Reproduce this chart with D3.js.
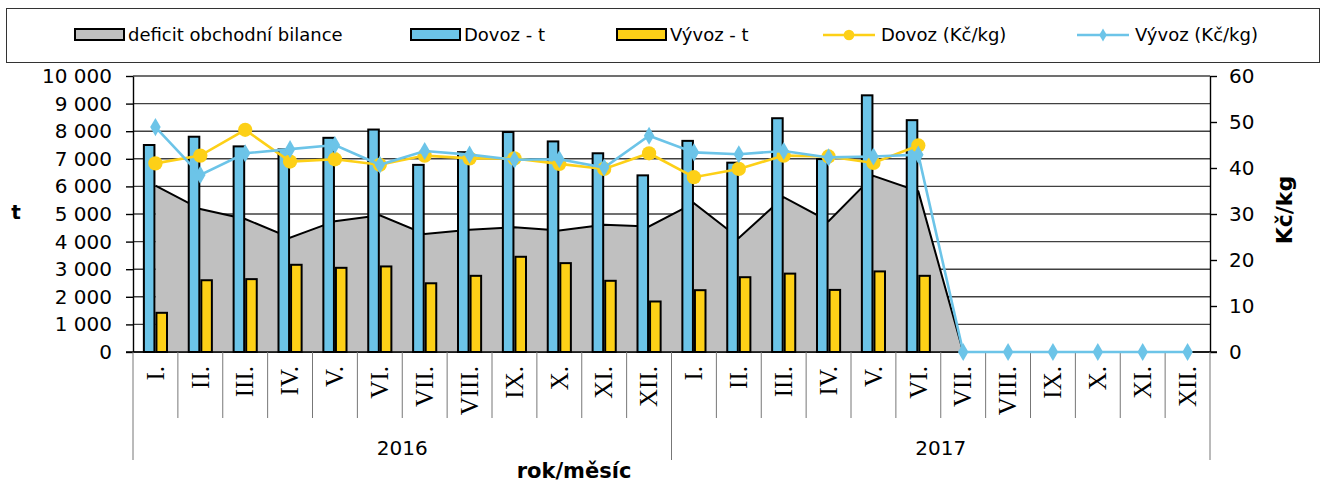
<!DOCTYPE html>
<html>
<head>
<meta charset="utf-8">
<script src="https://cdn.jsdelivr.net/npm/d3@7"></script>
<style>
body { margin: 0; background: #fff; }
svg { display: block; font-family: "DejaVu Sans", Verdana, sans-serif; }
</style>
</head>
<body>
<script>
// chart data
var years = ["2016", "2017"];
var months = ["I.", "II.", "III.", "IV.", "V.", "VI.", "VII.", "VIII.", "IX.", "X.", "XI.", "XII."];

// tonnes, left axis
var dovozT = [7500, 7800, 7450, 7340, 7760, 8060, 6780, 7240, 7970, 7630, 7200, 6400,
              7650, 6860, 8470, 6990, 9300, 8400, null, null, null, null, null, null];
var vyvozT = [1420, 2600, 2640, 3160, 3050, 3100, 2490, 2760, 3450, 3220, 2580, 1830,
              2240, 2710, 2840, 2250, 2920, 2760, null, null, null, null, null, null];
var deficit = [6030, 5180, 4820, 4140, 4740, 4950, 4280, 4430, 4520, 4400, 4610, 4550,
               5390, 4130, 5610, 4740, 6380, 5820, 0, null, null, null, null, null];

// Kč/kg, right axis
var dovozKc = [41.0, 42.7, 48.3, 41.4, 41.9, 40.7, 42.7, 42.1, 42.1, 40.9, 39.8, 43.2,
               38.0, 39.8, 42.7, 42.5, 41.1, 44.9, null, null, null, null, null, null];
var vyvozKc = [48.9, 38.5, 43.2, 44.1, 45.0, 40.7, 43.7, 42.9, 41.8, 41.9, 40.1, 47.0,
               43.4, 43.0, 43.7, 42.3, 42.5, 42.9, 0, 0, 0, 0, 0, 0];

var legendItems = ["deficit obchodní bilance", "Dovoz - t", "Vývoz - t", "Dovoz (Kč/kg)", "Vývoz (Kč/kg)"];

var colBlue = "#6cc4e8", colYellow = "#fdd017", colGray = "#c0c0c0";

drawChart();

function drawChart(){
    var width = 1327, height = 484;
    var plotL = 133, plotR = 1210, plotT = 76, plotB = 352;

    var svg = d3.select("body").append("svg")
        .attr("width", width)
        .attr("height", height);

    //categories: year x month
    var cats = d3.cross(years, months);

    var x = d3.scaleBand()
        .domain(d3.range(cats.length))
        .range([plotL, plotR]);
    var bw = x.bandwidth();
    var xs = d3.scaleBand()
        .domain(["dovoz", "vyvoz"])
        .range([bw * 0.22, bw * 0.78]);
    var cx = function(i){ return x(i) + bw / 2; };

    var yL = d3.scaleLinear().domain([0, 10000]).range([plotB, plotT]);
    var yR = d3.scaleLinear().domain([0, 60]).range([plotB, plotT]);

    var loc = d3.formatLocale({decimal: ",", thousands: " ", grouping: [3], currency: ["", ""]});
    var fmt = loc.format(",d");

    //gridlines
    svg.append("g").selectAll("line")
        .data(yL.ticks(10))
        .enter().append("line")
        .attr("x1", plotL).attr("x2", plotR)
        .attr("y1", function(d){ return yL(d); })
        .attr("y2", function(d){ return yL(d); })
        .attr("stroke", "#404040")
        .attr("stroke-width", 1.4);

    //deficit area
    var area = d3.area()
        .defined(function(d){ return d != null; })
        .x(function(d, i){ return cx(i); })
        .y0(yL(0))
        .y1(function(d){ return yL(d); });
    svg.append("path")
        .datum(deficit)
        .attr("d", area)
        .attr("fill", colGray);
    svg.append("path")
        .datum(deficit)
        .attr("d", d3.line()
            .defined(function(d){ return d != null; })
            .x(function(d, i){ return cx(i); })
            .y(function(d){ return yL(d); }))
        .attr("fill", "none")
        .attr("stroke", "#000")
        .attr("stroke-width", 2);

    //bars
    function bars(data, key, color){
        svg.append("g").selectAll("rect")
            .data(data.map(function(v, i){ return {i: i, v: v}; }).filter(function(d){ return d.v != null; }))
            .enter().append("rect")
            .attr("x", function(d){ return x(d.i) + xs(key) + 1; })
            .attr("width", xs.bandwidth() - 2)
            .attr("y", function(d){ return yL(d.v); })
            .attr("height", function(d){ return yL(0) - yL(d.v); })
            .attr("fill", color)
            .attr("stroke", "#000")
            .attr("stroke-width", 2);
    }
    bars(dovozT, "dovoz", colBlue);
    bars(vyvozT, "vyvoz", colYellow);

    //axes
    var axL = svg.append("g")
        .attr("transform", "translate(" + plotL + ",0)")
        .call(d3.axisLeft(yL).ticks(10).tickFormat(fmt).tickSize(7).tickSizeOuter(0).tickPadding(14));
    var axR = svg.append("g")
        .attr("transform", "translate(" + plotR + ",0)")
        .call(d3.axisRight(yR).ticks(6).tickSize(7).tickSizeOuter(0).tickPadding(12));
    [axL, axR].forEach(function(ax){
        ax.selectAll("text").attr("font-size", 20).attr("font-family", "DejaVu Sans").attr("fill", "#000");
        ax.selectAll("line, path").attr("stroke", "#000").attr("stroke-width", 1.4);
    });
    svg.append("line")
        .attr("x1", plotL - 7).attr("x2", plotR + 7)
        .attr("y1", plotB).attr("y2", plotB)
        .attr("stroke", "#000").attr("stroke-width", 1.6);

    //category axis
    var xa = svg.append("g");
    xa.selectAll(".sep")
        .data(d3.range(1, cats.length).filter(function(i){ return i % 12 != 0; }))
        .enter().append("line")
        .attr("x1", function(i){ return x(i); })
        .attr("x2", function(i){ return x(i); })
        .attr("y1", plotB).attr("y2", 418)
        .attr("stroke", "#777").attr("stroke-width", 1);
    xa.selectAll(".grp")
        .data(d3.range(0, cats.length + 1, 12))
        .enter().append("line")
        .attr("x1", function(i){ return i < cats.length ? x(i) : plotR; })
        .attr("x2", function(i){ return i < cats.length ? x(i) : plotR; })
        .attr("y1", plotB).attr("y2", 460)
        .attr("stroke", "#777").attr("stroke-width", 1);
    xa.selectAll(".mon")
        .data(cats)
        .enter().append("text")
        .attr("transform", function(d, i){ return "translate(" + cx(i) + ",366) rotate(-90)"; })
        .attr("text-anchor", "end")
        .attr("dy", "0.33em")
        .attr("font-family", "Liberation Serif")
        .attr("font-size", 25)
        .text(function(d){ return d[1]; });
    xa.selectAll(".yr")
        .data(years)
        .enter().append("text")
        .attr("x", function(d, j){ return (x(j * 12) + x(j * 12 + 11) + bw) / 2; })
        .attr("y", 455)
        .attr("text-anchor", "middle")
        .attr("font-size", 20)
        .text(function(d){ return d; });

    //axis titles
    svg.append("text")
        .attr("x", 16).attr("y", 219)
        .attr("text-anchor", "middle")
        .attr("font-weight", "bold").attr("font-size", 20)
        .text("t");
    svg.append("text")
        .attr("transform", "translate(1292,210) rotate(-90)")
        .attr("text-anchor", "middle")
        .attr("font-weight", "bold").attr("font-size", 22)
        .text("Kč/kg");
    svg.append("text")
        .attr("x", 574).attr("y", 478)
        .attr("text-anchor", "middle")
        .attr("font-weight", "bold").attr("font-size", 21)
        .text("rok/měsíc");

    //price lines
    function priceLine(data, color, marker){
        var line = d3.line()
            .defined(function(d){ return d != null; })
            .x(function(d, i){ return cx(i); })
            .y(function(d){ return yR(d); });
        svg.append("path")
            .datum(data)
            .attr("d", line)
            .attr("fill", "none")
            .attr("stroke", color)
            .attr("stroke-width", 2.6);
        var pts = data.map(function(v, i){ return {i: i, v: v}; }).filter(function(d){ return d.v != null; });
        svg.append("g").selectAll("path")
            .data(pts)
            .enter().append("path")
            .attr("transform", function(d){ return "translate(" + cx(d.i) + "," + yR(d.v) + ")"; })
            .attr("d", d3.symbol().type(marker).size(marker === d3.symbolCircle ? 160 : 95))
            .attr("fill", color);
    }
    priceLine(dovozKc, colYellow, d3.symbolCircle);
    priceLine(vyvozKc, colBlue, d3.symbolDiamond);

    //legend
    var lg = svg.append("g");
    lg.append("rect")
        .attr("x", 6.5).attr("y", 8.5)
        .attr("width", 1313).attr("height", 54)
        .attr("fill", "#fff")
        .attr("stroke", "#333").attr("stroke-width", 1);
    var swX = [75, 411, 617], lnX = [823, 1077];
    swX.forEach(function(sx, k){
        lg.append("rect")
            .attr("x", sx).attr("y", 29)
            .attr("width", 49).attr("height", 11)
            .attr("fill", [colGray, colBlue, colYellow][k])
            .attr("stroke", "#000").attr("stroke-width", 2);
        lg.append("text")
            .attr("x", sx + 53).attr("y", 41)
            .attr("font-size", 18)
            .text(legendItems[k]);
    });
    lnX.forEach(function(lx, k){
        var color = [colYellow, colBlue][k];
        lg.append("line")
            .attr("x1", lx).attr("x2", lx + 52)
            .attr("y1", 35).attr("y2", 35)
            .attr("stroke", color).attr("stroke-width", 2.6);
        lg.append("path")
            .attr("transform", "translate(" + (lx + 26) + ",35)")
            .attr("d", d3.symbol().type(k === 0 ? d3.symbolCircle : d3.symbolDiamond).size(k === 0 ? 90 : 50))
            .attr("fill", color);
        lg.append("text")
            .attr("x", lx + 58).attr("y", 41)
            .attr("font-size", 18)
            .text(legendItems[k + 3]);
    });
}
</script>
</body>
</html>
